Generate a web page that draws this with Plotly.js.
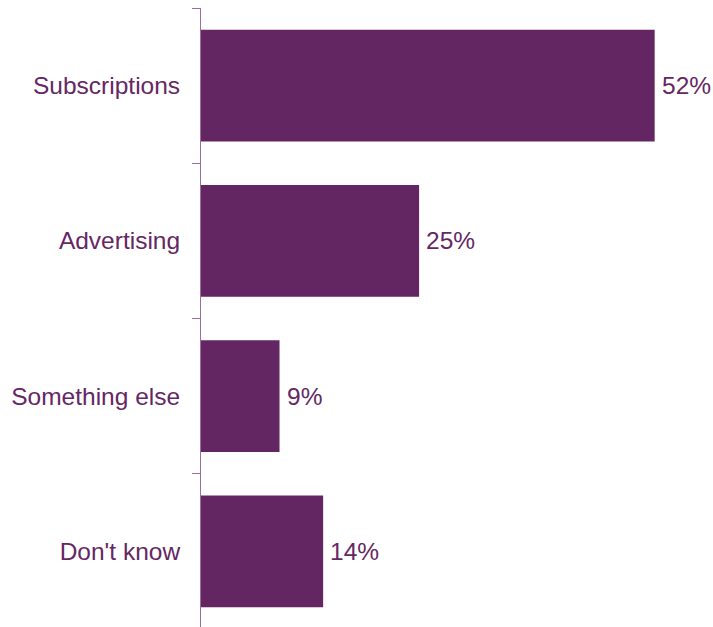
<!DOCTYPE html>
<html>
<head>
<meta charset="utf-8">
<script src="https://cdn.plot.ly/plotly-3.0.1.min.js"></script>
<style>html,body{margin:0;padding:0;background:#fff;overflow:hidden;}#chart{width:713px;height:629px;}</style>
</head>
<body>
<div id="chart"></div>
<script>
const categories = ["Subscriptions", "Advertising", "Something else", "Don't know"];
const values = [52, 25, 9, 14];
const valueLabels = values.map(v => v + "%");

const barColor = "#642662";
const textColor = "#652764";
const axisColor = "#9a6f99";
const fontFamily = "Liberation Sans, Arial, sans-serif";

const trace = {
  type: "bar",
  orientation: "h",
  y: categories,
  x: values,
  marker: {color: barColor},
  width: 0.72,
  hoverinfo: "none"
};

const annotations = categories.map((c, i) => ({
  x: values[i],
  y: c,
  xref: "x",
  yref: "y",
  text: valueLabels[i],
  showarrow: false,
  xanchor: "left",
  yanchor: "middle",
  xshift: 5,
  font: {family: fontFamily, size: 24.5, color: textColor}
}));

const layout = {
  width: 713,
  height: 629,
  margin: {l: 201, r: 6, t: 8, b: 0},
  paper_bgcolor: "#ffffff",
  plot_bgcolor: "#ffffff",
  showlegend: false,
  font: {family: fontFamily, size: 24.5, color: textColor},
  annotations: annotations,
  xaxis: {
    range: [0, 58],
    visible: false,
    showgrid: false,
    zeroline: false,
    fixedrange: true
  },
  yaxis: {
    type: "category",
    autorange: "reversed",
    showline: true,
    linecolor: axisColor,
    linewidth: 1,
    ticks: "outside",
    tickson: "boundaries",
    ticklen: 8,
    tickcolor: axisColor,
    tickwidth: 1,
    ticklabelstandoff: 15,
    showgrid: false,
    zeroline: false,
    tickfont: {family: fontFamily, size: 24.5, color: textColor},
    fixedrange: true
  }
};

Plotly.newPlot("chart", [trace], layout, {displayModeBar: false, staticPlot: true});
</script>
</body>
</html>
